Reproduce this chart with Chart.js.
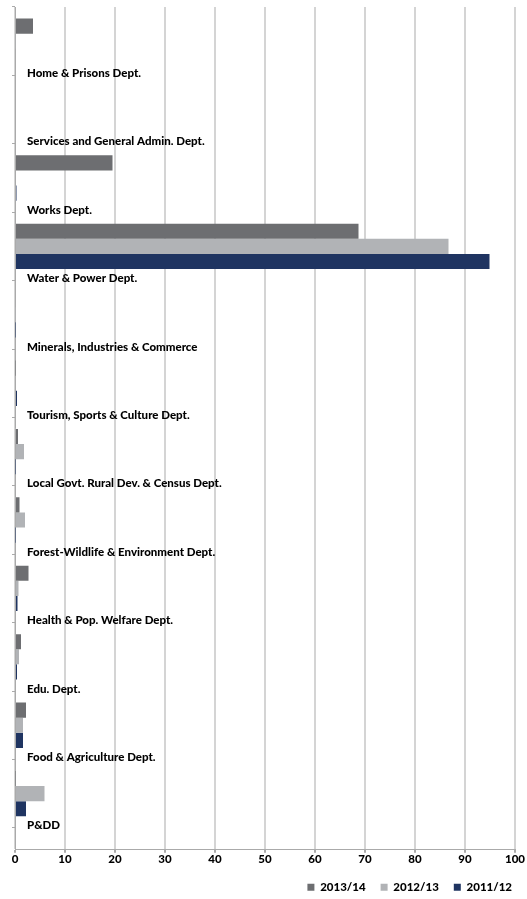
<!DOCTYPE html>
<html><head><meta charset="utf-8">
<script src="https://cdn.jsdelivr.net/npm/chart.js@4/dist/chart.umd.min.js"></script>
<style>html,body{margin:0;padding:0;background:#fff;} #wrap{width:527px;height:899px;position:relative;}</style>
</head><body><div id="wrap"><canvas id="c"></canvas></div>
<script>
const categories = ["Home & Prisons Dept.", "Services and General Admin. Dept.", "Works Dept.", "Water & Power Dept.", "Minerals, Industries & Commerce", "Tourism, Sports & Culture Dept.", "Local Govt. Rural Dev. & Census Dept.", "Forest-Wildlife & Environment Dept.", "Health & Pop. Welfare Dept.", "Edu. Dept.", "Food & Agriculture Dept.", "P&DD"];
const seriesNames = ["2013/14", "2012/13", "2011/12"];
const values2013_14 = [3.6, 0, 19.5, 68.7, 0, 0.1, 0.6, 0.9, 2.7, 1.2, 2.2, 0.1];
const values2012_13 = [0.1, 0, 0, 86.7, 0.1, 0, 1.8, 2.0, 0.7, 0.8, 1.6, 5.9];
const values2011_12 = [0, 0, 0.3, 94.9, 0.1, 0.4, 0.1, 0.1, 0.5, 0.4, 1.6, 2.2];
const xMin = 0, xMax = 100, xStep = 10;

const colors = ['#6d6e71', '#b1b3b6', '#1f3461'];
const font = { family: 'Lato', weight: 900, size: 11.5 };

new Chart(document.getElementById('c'), {
  type: 'bar',
  data: {
    labels: categories,
    datasets: [
      { label: seriesNames[0], data: values2013_14, backgroundColor: colors[0], borderWidth: 0 },
      { label: seriesNames[1], data: values2012_13, backgroundColor: colors[1], borderWidth: 0 },
      { label: seriesNames[2], data: values2011_12, backgroundColor: colors[2], borderWidth: 0 }
    ]
  },
  options: {
    indexAxis: 'y',
    responsive: true,
    maintainAspectRatio: false,
    animation: false,
    layout: { padding: { left: 12, right: 0, top: 7, bottom: -4 } },
    datasets: { bar: { categoryPercentage: 0.663, barPercentage: 1 } },
    plugins: {
      legend: {
        position: 'bottom', align: 'end',
        labels: { boxWidth: 7, boxHeight: 7, padding: 15, color: '#000', font: font }
      },
      tooltip: { enabled: false }
    },
    scales: {
      x: {
        min: xMin, max: xMax,
        ticks: { stepSize: xStep, color: '#000', padding: 0, font: font },
        grid: { color: '#d4d4d4', lineWidth: 2, tickLength: 3, tickColor: '#aaaaaa' },
        border: { color: '#aaaaaa', width: 1 },
        afterFit: (s) => { s.paddingRight = 12; }
      },
      y: {
        ticks: { mirror: true, padding: 12, labelOffset: 32, color: '#000', font: font },
        grid: { drawOnChartArea: false, offset: true, tickLength: 3, color: '#aaaaaa' },
        border: { color: '#aaaaaa', width: 1 },
        afterBuildTicks: (s) => { s._valueRange = 12.32; },
        afterFit: (s) => { s.width = 3; s.paddingTop = 0; s.paddingBottom = 0; }
      }
    }
  }
});
</script></body></html>
